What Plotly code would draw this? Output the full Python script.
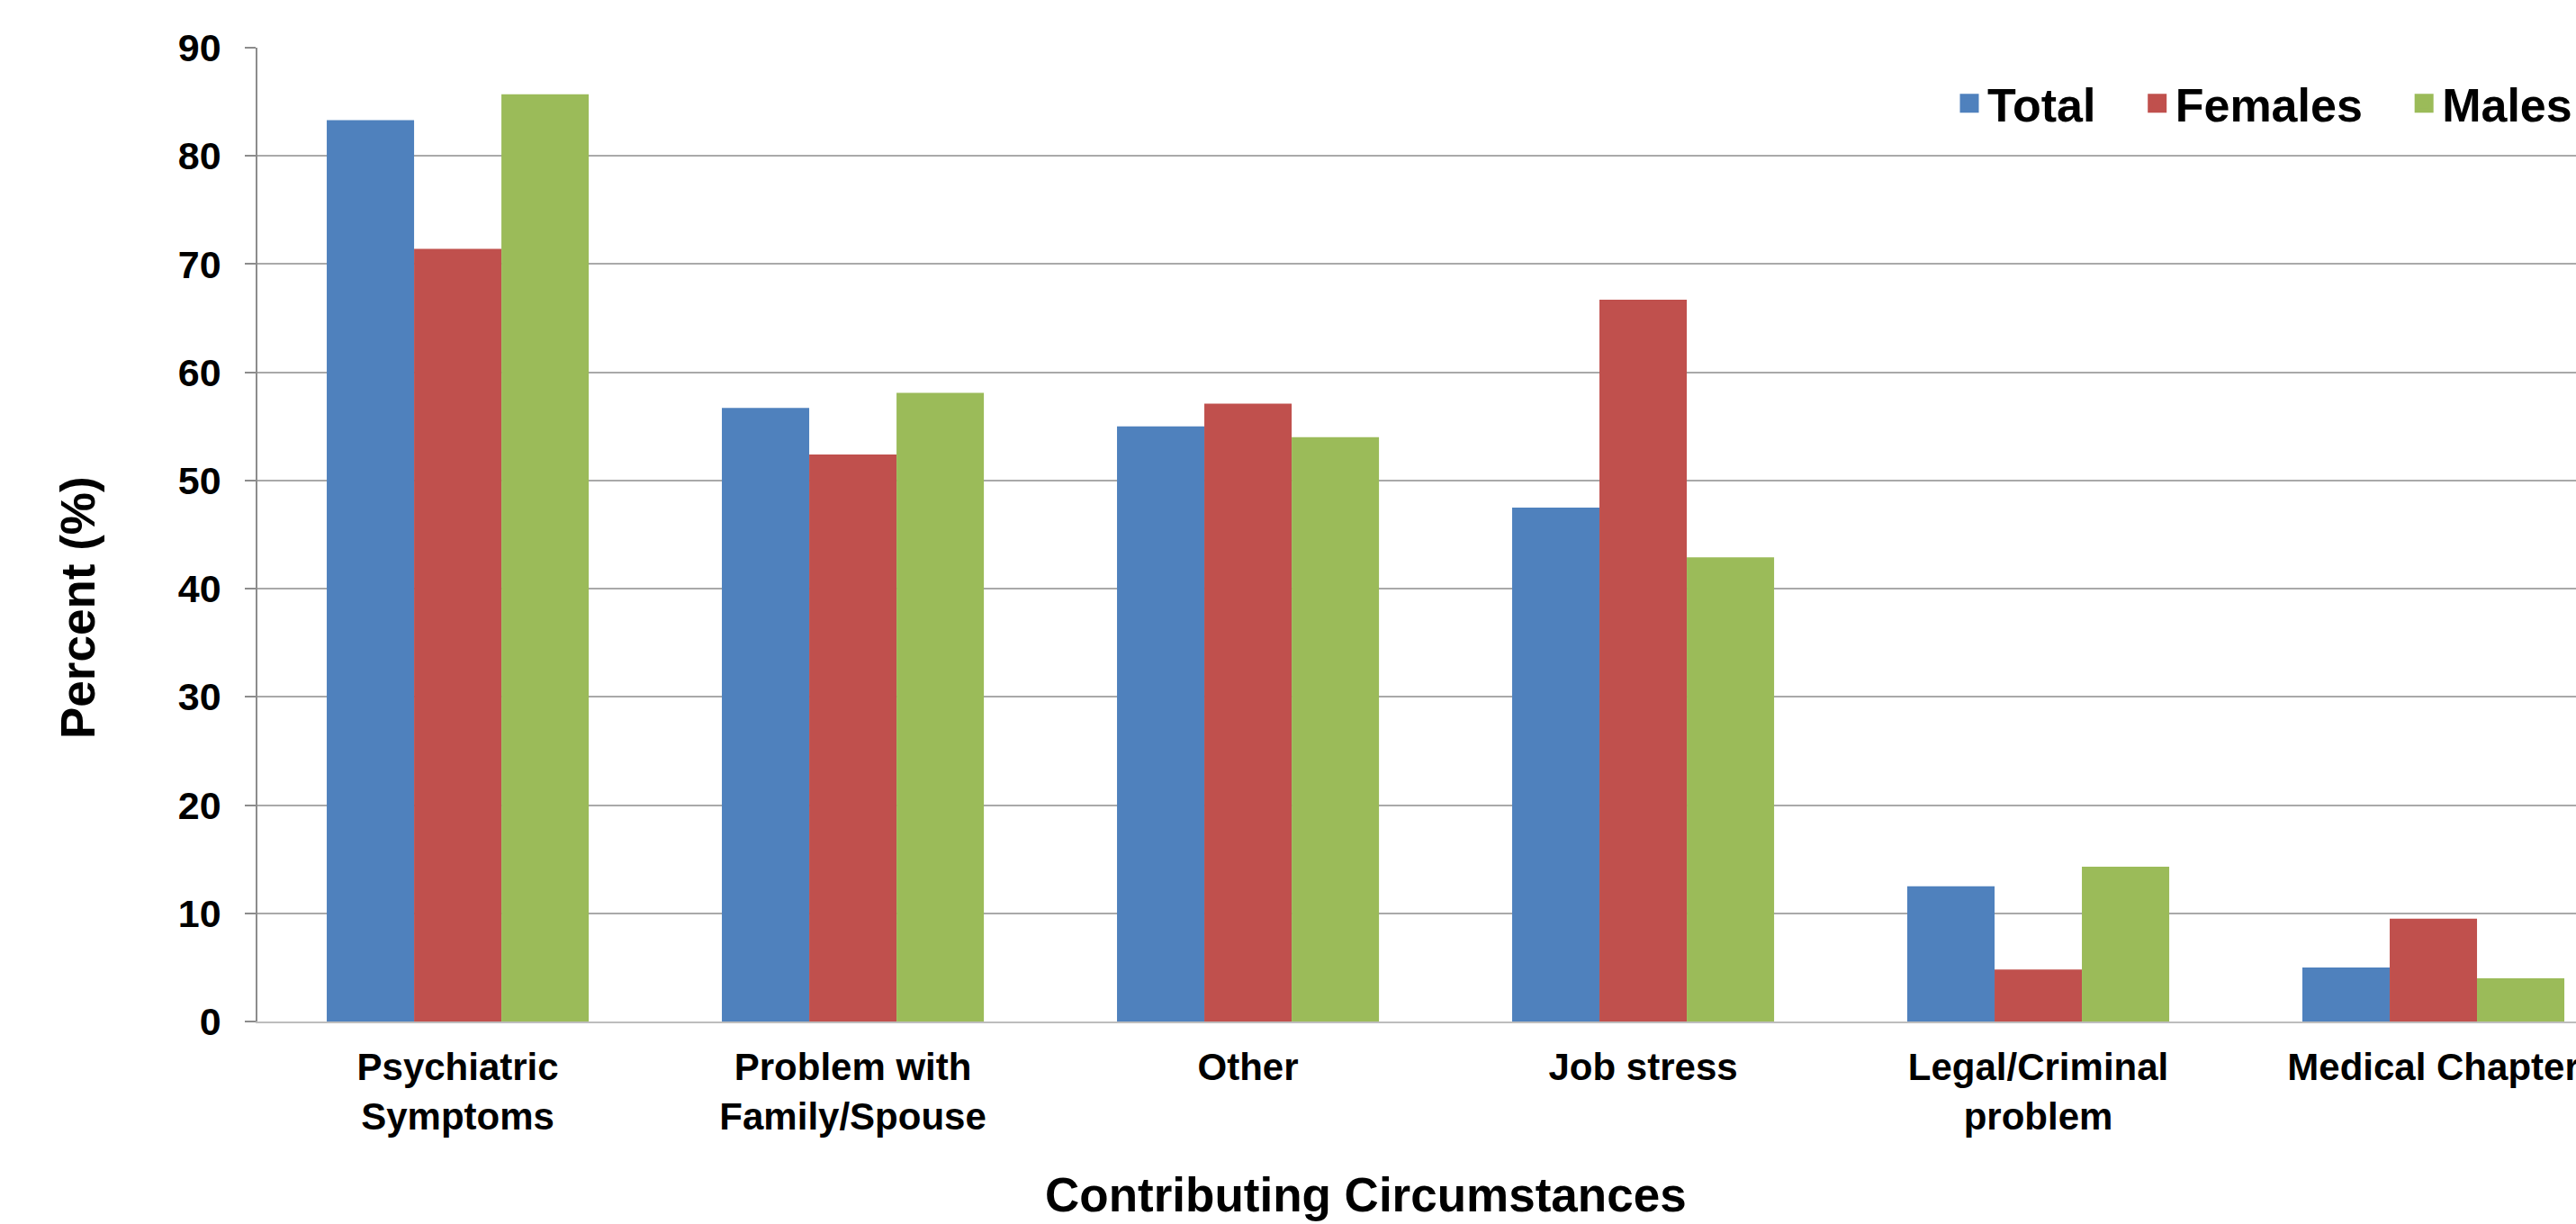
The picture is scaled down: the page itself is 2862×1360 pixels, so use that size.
import plotly.graph_objects as go

categories = ["Psychiatric<br>Symptoms", "Problem with<br>Family/Spouse", "Other",
              "Job stress", "Legal/Criminal<br>problem", "Medical Chapter"]
total = [83.3, 56.7, 55.0, 47.5, 12.5, 5.0]
females = [71.4, 52.4, 57.1, 66.7, 4.8, 9.5]
males = [85.7, 58.1, 54.0, 42.9, 14.3, 4.0]
series_names = ["Total", "Females", "Males"]
colors = ["#4f81bd", "#c0504d", "#9bbb59"]
y_ticks = [0, 10, 20, 30, 40, 50, 60, 70, 80, 90]

FONT = "Liberation Sans, Arial, sans-serif"
W, H = 2862, 1360
ML, MR, MT, MB = 286, 0, 53, 225
PAD = "\u00a0\u00a0\u00a0"

fig = go.Figure()
for name, vals, col in zip(series_names, [total, females, males], colors):
    fig.add_trace(go.Bar(x=categories, y=vals, name=name, marker=dict(color=col, line=dict(width=0)),
                         showlegend=False))
# legend entries (bigger square swatches)
for i, (name, col) in enumerate(zip(series_names, colors)):
    label = name + (PAD if i < len(series_names) - 1 else "")
    fig.add_trace(go.Scatter(x=[None], y=[None], mode="markers", name=label,
                             marker=dict(symbol="square", size=16, color=col,
                                         line=dict(color=col, width=5)),
                             showlegend=True))

fig.update_layout(
    width=W, height=H,
    margin=dict(l=ML, r=MR, t=MT, b=MB, autoexpand=False),
    paper_bgcolor="white", plot_bgcolor="white",
    barmode="group", bargap=0.337, bargroupgap=0,
    font=dict(family=FONT, color="black", weight="bold"),
    legend=dict(orientation="h", x=(2168 - ML) / (W - ML - MR), xanchor="left",
                y=(H - MB - 115) / (H - MT - MB), yanchor="middle",
                font=dict(size=52, family=FONT, weight="bold", color="black"),
                bgcolor="rgba(0,0,0,0)", itemsizing="trace"),
    xaxis=dict(range=[-0.507, 5.361], showline=True, linecolor="#bdbdbd", linewidth=2,
               ticks="", showgrid=False, zeroline=False,
               tickfont=dict(size=42, family=FONT, weight="bold", color="black"),
               ticklabelstandoff=13),
    yaxis=dict(range=[0, 90], tickvals=y_ticks, showline=True, linecolor="#8c8c8c", linewidth=1.5,
               ticks="outside", ticklen=12, tickcolor="#8c8c8c", tickwidth=1.5,
               showgrid=True, gridcolor="#a9a9a9", gridwidth=1.5, zeroline=False,
               tickfont=dict(size=43, family=FONT, weight="bold", color="black"),
               ticklabelstandoff=18),
    annotations=[
        dict(text="Contributing Circumstances", xref="paper", yref="paper",
             x=(1517 - ML) / (W - ML - MR), y=(H - MB - 1327) / (H - MT - MB),
             xanchor="center", yanchor="middle", showarrow=False,
             font=dict(size=53, family=FONT, weight="bold", color="black")),
        dict(text="Percent (%)", xref="paper", yref="paper", textangle=-90,
             x=(86 - ML) / (W - ML - MR), y=(H - MB - 675) / (H - MT - MB),
             xanchor="center", yanchor="middle", showarrow=False,
             font=dict(size=53, family=FONT, weight="bold", color="black")),
    ],
)

fig.write_html("out.html")
